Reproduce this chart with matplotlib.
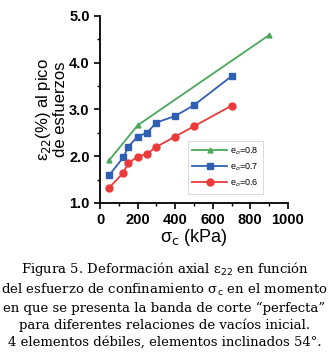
import matplotlib
matplotlib.use("Agg")
import matplotlib.pyplot as plt
from matplotlib.ticker import MultipleLocator

x08 = [50, 200, 900]
y08 = [1.92, 2.66, 4.59]
x07 = [50, 125, 150, 200, 250, 300, 400, 500, 700]
y07 = [1.60, 1.98, 2.20, 2.42, 2.50, 2.72, 2.86, 3.09, 3.71]
x06 = [50, 125, 150, 200, 250, 300, 400, 500, 700]
y06 = [1.33, 1.65, 1.85, 1.99, 2.05, 2.20, 2.42, 2.64, 3.08]
labels = ["e$_o$=0.8", "e$_o$=0.7", "e$_o$=0.6"]
xticks = [0, 200, 400, 600, 800, 1000]
yticks = [1.0, 2.0, 3.0, 4.0, 5.0]

plt.rcParams['font.family'] = ['Liberation Sans', 'DejaVu Sans']
fig = plt.figure(figsize=(3.29, 3.54), dpi=100)
ax = fig.add_axes([0.304, 0.4266, 0.571, 0.5284])

ax.plot(x08, y08, color='#4aa85a', marker='^', ms=3.5, lw=1.3, label=labels[0])
ax.plot(x07, y07, color='#2f5fb3', marker='s', ms=5, lw=1.3, label=labels[1])
ax.plot(x06, y06, color='#ea3a3a', marker='o', ms=5, lw=1.3, label=labels[2])

ax.set_xlim(0, 1000)
ax.set_ylim(1.0, 5.0)
ax.set_xticks(xticks)
ax.set_yticks(yticks)
ax.set_yticklabels([f"{v:.1f}" for v in yticks])
ax.xaxis.set_minor_locator(MultipleLocator(100))
ax.yaxis.set_minor_locator(MultipleLocator(0.5))
ax.tick_params(which='major', direction='out', length=4, width=1.2, labelsize=10.5)
ax.tick_params(which='minor', direction='out', length=2.5, width=1.0)
for lab in ax.get_xticklabels() + ax.get_yticklabels():
    lab.set_fontweight('bold')
for s in ['top', 'right']:
    ax.spines[s].set_visible(False)
for s in ['left', 'bottom']:
    ax.spines[s].set_linewidth(1.3)

ax.set_xlabel("σ$_{\\rm c}$ (kPa)", fontsize=13, labelpad=0)
ax.set_ylabel("ε$_{22}$(%) al pico\nde esfuerzos", fontsize=12, labelpad=1, linespacing=1.0)

leg = ax.legend(loc='lower right', fontsize=6.5, frameon=True, fancybox=False,
                edgecolor='#cccccc', handlelength=3.8, borderpad=0.5,
                labelspacing=0.5, handletextpad=0.4, borderaxespad=0,
                bbox_to_anchor=(0.87, 0.05))
leg.get_frame().set_linewidth(0.6)

caption = ("Figura 5. Deformación axial ε$_{22}$ en función\n"
           "del esfuerzo de confinamiento σ$_{\\rm c}$ en el momento\n"
           "en que se presenta la banda de corte “perfecta”\n"
           "para diferentes relaciones de vacíos inicial.\n"
           "4 elementos débiles, elementos inclinados 54°.")
fig.text(0.5, 0.265, caption, ha='center', va='top', fontsize=9.5,
         family=['DejaVu Serif'], linespacing=1.35)

fig.savefig("out.png", dpi=100)
